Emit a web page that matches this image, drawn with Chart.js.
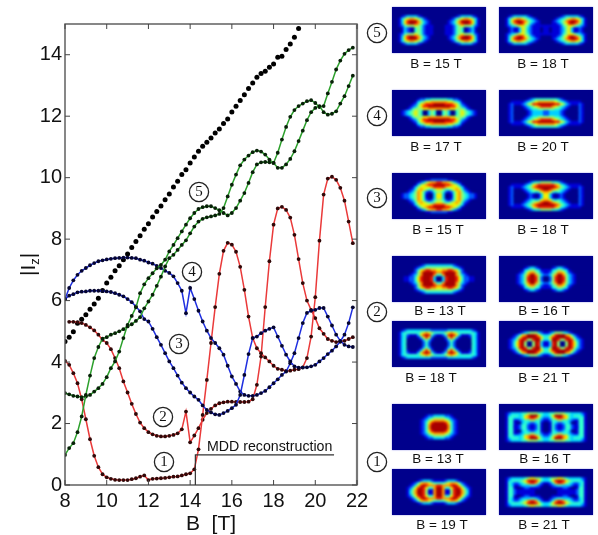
<!DOCTYPE html>
<html>
<head>
<meta charset="utf-8">
<script src="https://cdn.jsdelivr.net/npm/chart.js@4"></script>
<style>
  body { margin: 0; background: #fff; }
  #wrap { position: relative; width: 598px; height: 535px; overflow: hidden; }
  #main { position: absolute; left: 0; top: 0; }
  .clip { position: absolute; width: 94px; height: 46px; overflow: hidden; background: #00008c; box-shadow: 0 0 1.5px #8f8fe8; }
  .panel { filter: blur(1.2px); }
</style>
</head>
<body>
<div id="wrap"><canvas id="main" width="598" height="535"></canvas></div>
<script>
// values -----------------------------------------------------
const bField = [
  8, 8.2, 8.4, 8.6, 8.8, 9, 9.2, 9.4, 9.6, 9.8,
  10, 10.2, 10.4, 10.6, 10.8, 11, 11.2, 11.4, 11.6, 11.8,
  12, 12.2, 12.4, 12.6, 12.8, 13, 13.2, 13.4, 13.6, 13.8,
  14, 14.2, 14.4, 14.6, 14.8, 15, 15.2, 15.4, 15.6, 15.8,
  16, 16.2, 16.4, 16.6, 16.8, 17, 17.2, 17.4, 17.6, 17.8,
  18, 18.2, 18.4, 18.6, 18.8, 19, 19.2, 19.4, 19.6, 19.8,
  20, 20.2, 20.4, 20.6, 20.8, 21, 21.2, 21.4, 21.6, 21.8
];
const red1 = [
  4.04, 3.91, 3.64, 3.31, 2.79, 2.14, 1.49, .95, .58, .35,
  .25, .2, .17, .16, .16, .16, .19, .22, .27, .31,
  .16, .2, .21, .22, .23, .25, .27, .28, .31, .35,
  .38, .51, 1.16, 2.28, 3.42, 4.62, 5.79, 6.87, 7.62, 7.88,
  7.82, 7.59, 7.1, 6.35, 5.48, 4.78, 4.45, 4.29, 4.15, 4.02,
  3.88, 3.78, 3.75, 3.71, 3.72, 3.75, 3.77, 3.83, 4.13, 4.83,
  6.11, 7.95, 9.45, 9.97, 10.03, 9.93, 9.67, 9.25, 8.57, 7.87
];
const red2 = [
  null, 5.31, 5.31, 5.3, 5.27, 5.21, 5.13, 5.03, 4.89, 4.72,
  4.62, 4.42, 4.13, 3.8, 3.37, 3.01, 2.64, 2.31, 2.03, 1.85,
  1.72, 1.65, 1.6, 1.58, 1.58, 1.6, 1.63, 1.68, 1.81, 2.39,
  1.39, 1.61, 1.85, 2.12, 2.34, 2.48, 2.59, 2.66, 2.69, 2.71,
  2.71, 2.7, 2.7, 2.7, 2.71, 2.79, 3.26, 4.18, 5.79, 7.28,
  8.47, 9.0, 9.05, 8.95, 8.7, 8.14, 7.35, 6.57, 6.0, 5.7,
  5.43, 5.1, 4.92, 4.75, 4.69, 4.65, 4.67, 4.69, 4.75, 4.81
];
const blue3 = [
  6.05, 6.16, 6.21, 6.27, 6.29, 6.3, 6.32, 6.32, 6.32, 6.31,
  6.3, 6.28, 6.24, 6.19, 6.14, 6.05, 5.95, 5.81, 5.65, 5.4,
  5.32, 5.08, 4.81, 4.56, 4.29, 4.02, 3.8, 3.56, 3.33, 3.15,
  3.01, 2.88, 2.77, 2.59, 2.44, 2.36, 2.3, 2.28, 2.34, 2.41,
  2.5, 2.61, 2.93, 3.58, 4.26, 4.78, 4.83, 4.94, 5.02, 5.08,
  5.13, 4.83, 4.53, 4.24, 4.02, 3.86, 3.82, 3.82, 3.83, 3.86,
  3.91, 4.02, 4.13, 4.26, 4.37, 4.51, 4.67, 4.89, 5.27, 5.78
];
const blue4 = [
  6.05, 6.41, 6.66, 6.84, 6.97, 7.06, 7.15, 7.22, 7.28, 7.31,
  7.34, 7.36, 7.38, 7.39, 7.4, 7.4, 7.39, 7.38, 7.33, 7.3,
  7.24, 7.2, 7.13, 7.06, 6.97, 6.9, 6.79, 6.57, 6.32, 5.59,
  6.41, 6.05, 5.67, 5.32, 5.02, 4.78, 4.62, 4.45, 4.24, 3.88,
  3.53, 3.29, 3.04, 2.93, 2.9, 2.9, 2.93, 2.99, 3.06, 3.18,
  3.31, 3.44, 3.58, 3.69, 3.96, 4.29, 4.78, 5.27, 5.6, 5.67,
  5.7, 5.76, 5.76, 5.48, 5.19, 4.89, 4.69, 4.56, 4.51, 4.49
];
const green1 = [
  .98, 1.2, 1.36, 1.72, 2.23, 2.93, 3.56, 4.13, 4.49, 4.76,
  4.81, 4.89, 4.94, 5.0, 5.07, 5.16, 5.23, 5.34, 5.46, 5.75,
  5.97, 6.19, 6.48, 6.78, 7.11, 7.38, 7.49, 7.65, 7.81, 7.96,
  8.19, 8.41, 8.57, 8.66, 8.71, 8.74, 8.77, 8.82, 9.01, 9.39,
  9.77, 10.1, 10.4, 10.59, 10.72, 10.83, 10.88, 10.85, 10.75, 10.59,
  10.48, 10.32, 10.32, 10.43, 10.61, 10.86, 11.19, 11.53, 11.87, 12.13,
  12.27, 12.33, 12.13, 12.05, 12.08, 12.16, 12.41, 12.65, 12.98, 13.32
];
const green2 = [
  2.99, 2.95, 2.9, 2.88, 2.86, 2.88, 2.93, 3.04, 3.15, 3.29,
  3.51, 3.8, 4.02, 4.34, 4.78, 5.21, 5.5, 5.78, 6.24, 6.53,
  6.73, 6.89, 7.05, 7.16, 7.33, 7.6, 7.81, 8.03, 8.25, 8.47,
  8.68, 8.85, 8.98, 9.04, 9.07, 9.07, 9.01, 8.94, 8.85, 8.77,
  8.85, 9.01, 9.25, 9.5, 9.83, 10.18, 10.43, 10.5, 10.51, 10.5,
  10.48, 10.81, 11.24, 11.65, 11.98, 12.2, 12.33, 12.41, 12.49, 12.52,
  12.43, 12.3, 12.33, 12.74, 13.12, 13.52, 13.81, 14.03, 14.15, 14.23
];
const black = [
  4.67, 4.81, 4.99, 5.26, 5.39, 5.54, 5.72, 5.89, 6.08, 6.33,
  6.57, 6.76, 6.97, 7.13, 7.33, 7.52, 7.73, 7.92, 8.11, 8.32,
  8.5, 8.72, 8.9, 9.08, 9.28, 9.47, 9.7, 9.88, 10.1, 10.26,
  10.48, 10.67, 10.86, 11.02, 11.15, 11.29, 11.45, 11.58, 11.76, 11.91,
  12.14, 12.32, 12.51, 12.7, 12.9, 13.08, 13.27, 13.39, 13.46, 13.59,
  13.7, 13.92, 13.95, 14.17, 14.35, 14.57, 14.85
];

// density maps: top left quarter of each map, levels 0-9, mirrored when drawn
const map5a = ['0000000000000000','0000000000000000','0012333321000000','0135677654210000','0136899975321000','0136899875321000','0124555654211100','0013210454211100'];
const map5b = ['0000000000000000','0000000000000000','0012333332100000','0135677654321000','0136899875432100','0135789865321100','0123456654211111','0012113653211101'];
const map4a = ['0000000000000000','0000000000000000','0000000012233444','0000000134566777','0000001246788899','0000012356889999','0000124555667777','0012345654003540'];
const map4b = ['0000000000000000','0000000000000000','0000000001234444','0001111123456777','0012111235688999','0012000123456788','0012000012344555','0012000001233332'];
const map3a = ['0000000000000000','0000000000011222','0000000012356778','0000000135678899','0000001356666788','0000012467654456','0000123576421245','0012234576410036'];
const map3b = ['0000000000000000','0000000000000000','0000000001234455','0001111123467888','0012111234578999','0012000123456789','0012000012343467','0012000001210136'];
const map2a = ['0000000000000000','0000000000000000','0000000001233333','0000000123455555','0000000246788776','0000001257999987','0000012357999974','0001122468999830'];
const map2b = ['0000000000000000','0000000000000000','0000000000000000','0000000012332100','0000000134554311','0000001246775421','0000012357997532','0000012358998520'];
const map2c = ['0000000000000000','0000000000000000','0012333333333222','0134444445676544','0134211136898421','0134100013686200','0134000001353100','0134000000242000'];
const map2d = ['0000000000000000','0000000000000000','0000000000000000','0000001234555321','0000124679998643','0001246899999864','0012358985589953','0012468950059831'];
const map1a = ['0000000000000000','0000000000000000','0000000000000000','0000000000012233','0000000000123455','0000000001235677','0000000001246899','0000000001247999'];
const map1b = ['0000000000000000','0000000000000000','0123333445555443','0134443467999643','0144333467887532','0144112344554421','0144100343223410','0144112442112410'];
const map1c = ['0000000000000000','0000000000000000','0000000000000000','0000000012333211','0000001246776544','0000012468987778','0000124689864479','0000135799851179'];
const map1d = ['0000000000000000','0000000000000000','0123333345665543','0134444568998643','0143223457887421','0143112333443210','0144100122111100','0144211111110000'];

const mapTitles = ['B = 15 T', 'B = 18 T', 'B = 17 T', 'B = 20 T', 'B = 15 T', 'B = 18 T', 'B = 13 T',
  'B = 16 T', 'B = 18 T', 'B = 21 T', 'B = 13 T', 'B = 16 T', 'B = 19 T', 'B = 21 T'];
const allMaps = [map5a, map5b, map4a, map4b, map3a, map3b, map2a, map2b, map2c, map2d, map1a, map1b, map1c, map1d];
const jet = ['#00008c', '#0000d8', '#0058ff', '#00d0ff', '#30ffd0', '#90ff70', '#f0f000', '#ff9800', '#f02000', '#a80000'];

// where things sit on the page
const mapBoxes = [[392,7],[499,7],[392,90],[499,90],[392,173],[499,173],[392,256],[499,256],[392,321],[499,321],[392,404],[499,404],[392,469],[499,469]];
const titleSpots = [[436,64],[543,64],[436,147],[543,147],[438,230],[543,230],[440,311],[544,311],[431,378],[544,378],[438,459],[545,459],[442,525],[544,525]];
const circled = [['5',199,192],['4',192,272],['3',179,344],['2',163,417],['1',164,462],['5',377,33],['4',377,116],['3',377,198],['2',377,312],['1',377,462]];

const frameAndNotes = {
  id: 'frameAndNotes',
  afterDatasetsDraw(chart) {
    const ctx = chart.ctx, a = chart.chartArea, sx = chart.scales.x, sy = chart.scales.y;
    ctx.save();
    // box with inward ticks, matlab style
    ctx.strokeStyle = '#555';
    ctx.lineWidth = 1.4;
    ctx.strokeRect(a.left, a.top, a.right - a.left, a.bottom - a.top);
    ctx.strokeStyle = '#777';
    ctx.lineWidth = 2.2;
    ctx.beginPath(); ctx.moveTo(a.right, a.top); ctx.lineTo(a.right, a.bottom); ctx.stroke();
    ctx.strokeStyle = '#444';
    ctx.lineWidth = 1;
    ctx.beginPath();
    sx.ticks.forEach(t => {
      const px = sx.getPixelForValue(t.value);
      ctx.moveTo(px, a.bottom); ctx.lineTo(px, a.bottom - 5);
      ctx.moveTo(px, a.top); ctx.lineTo(px, a.top + 5);
    });
    sy.ticks.forEach(t => {
      const py = sy.getPixelForValue(t.value);
      ctx.moveTo(a.left, py); ctx.lineTo(a.left + 5, py);
      ctx.moveTo(a.right, py); ctx.lineTo(a.right - 5, py);
    });
    ctx.stroke();

    // MDD marker
    ctx.strokeStyle = '#333';
    ctx.lineWidth = 1.2;
    ctx.beginPath();
    ctx.moveTo(sx.getPixelForValue(14.25), a.bottom);
    ctx.lineTo(sx.getPixelForValue(14.25), sy.getPixelForValue(0.98));
    ctx.lineTo(sx.getPixelForValue(20.9), sy.getPixelForValue(0.98));
    ctx.stroke();
    ctx.fillStyle = '#111';
    ctx.font = '14.2px "Liberation Sans"';
    ctx.textAlign = 'left';
    ctx.textBaseline = 'alphabetic';
    ctx.fillText('MDD reconstruction', 207, 451);

    // y title, the subscript needs its own font
    ctx.translate(35, 276);
    ctx.rotate(-Math.PI / 2);
    ctx.font = '21px "Liberation Sans"';
    ctx.fillText('|I', 0, 0);
    let w = ctx.measureText('|I').width;
    ctx.font = '13px "Liberation Sans"';
    ctx.fillText('z', w, 4);
    w += ctx.measureText('z').width;
    ctx.font = '21px "Liberation Sans"';
    ctx.fillText('|', w, 0);
    ctx.rotate(Math.PI / 2);
    ctx.translate(-35, -276);

    // map titles
    ctx.textAlign = 'center';
    ctx.textBaseline = 'middle';
    ctx.font = '13.5px "Liberation Sans"';
    mapTitles.forEach((t, i) => ctx.fillText(t, titleSpots[i][0], titleSpots[i][1]));

    // circled numbers
    circled.forEach(c => {
      ctx.fillStyle = '#fff';
      ctx.strokeStyle = '#222';
      ctx.lineWidth = 1.3;
      ctx.beginPath();
      ctx.arc(c[1], c[2], 9.6, 0, Math.PI * 2);
      ctx.fill();
      ctx.stroke();
      ctx.fillStyle = '#111';
      ctx.font = '15px "Liberation Serif"';
      ctx.fillText(c[0], c[1], c[2] + 0.5);
    });
    ctx.restore();
  }
};

function curve(values, lineColor, dotColor) {
  return {
    data: values.map((v, i) => ({ x: bField[i], y: v })),
    showLine: true,
    borderColor: lineColor,
    borderWidth: 1.5,
    pointRadius: 1.9,
    pointBackgroundColor: dotColor,
    pointBorderWidth: 0,
    spanGaps: false
  };
}

new Chart(document.getElementById('main'), {
  type: 'scatter',
  data: {
    datasets: [
      curve(green1, '#2ca02c', '#082008'),
      curve(green2, '#2ca02c', '#082008'),
      curve(blue3, '#1f2fe0', '#050530'),
      curve(blue4, '#1f2fe0', '#050530'),
      curve(red1, '#ea3a3a', '#300808'),
      curve(red2, '#ea3a3a', '#300808'),
      { data: black.map((v, i) => ({ x: bField[i], y: v })), showLine: false, pointRadius: 2.5, pointBackgroundColor: '#000', pointBorderWidth: 0 }
    ]
  },
  options: {
    responsive: false,
    animation: false,
    layout: { padding: { top: 24, right: 241, left: 0, bottom: 0 } },
    plugins: { legend: { display: false }, tooltip: { enabled: false } },
    scales: {
      x: {
        min: 8, max: 22,
        afterFit: s => { s.height = 50; },
        grid: { display: false, drawTicks: false },
        border: { display: false },
        ticks: { stepSize: 2, maxRotation: 0, padding: 4, color: '#111', font: { family: 'Liberation Sans', size: 20 } },
        title: { display: true, text: 'B  [T]', color: '#111', padding: { top: 0, bottom: -2 }, font: { family: 'Liberation Sans', size: 21 } }
      },
      y: {
        min: 0, max: 15,
        afterFit: s => { s.width = 65; },
        afterBuildTicks: s => { s.ticks = s.ticks.filter(t => t.value <= 14); },
        grid: { display: false, drawTicks: false },
        border: { display: false },
        ticks: { stepSize: 2, padding: 3, color: '#111', font: { family: 'Liberation Sans', size: 20 } }
      }
    }
  },
  plugins: [frameAndNotes]
});

// one small chart per density map, cells are square points
function drawMap(quarter, box) {
  const clip = document.createElement('div');
  clip.className = 'clip';
  clip.style.left = box[0] + 'px';
  clip.style.top = box[1] + 'px';
  const c = document.createElement('canvas');
  c.className = 'panel';
  c.width = 94;
  c.height = 46;
  clip.appendChild(c);
  document.getElementById('wrap').appendChild(clip);
  const cells = [], colors = [];
  quarter.forEach((row, r) => {
    row.split('').forEach((d, k) => {
      [[k, r], [31 - k, r], [k, 15 - r], [31 - k, 15 - r]].forEach(p => {
        cells.push({ x: p[0], y: p[1] });
        colors.push(jet[+d]);
      });
    });
  });
  new Chart(c, {
    type: 'scatter',
    data: { datasets: [{ data: cells, pointStyle: 'rect', pointRadius: 2.4, pointBorderWidth: 0, pointBackgroundColor: colors }] },
    options: {
      responsive: false,
      animation: false,
      plugins: { legend: { display: false }, tooltip: { enabled: false } },
      scales: {
        x: { display: false, min: -0.5, max: 31.5 },
        y: { display: false, min: -0.5, max: 15.5, reverse: true }
      }
    }
  });
}
allMaps.forEach((m, i) => drawMap(m, mapBoxes[i]));
</script>
</body>
</html>
